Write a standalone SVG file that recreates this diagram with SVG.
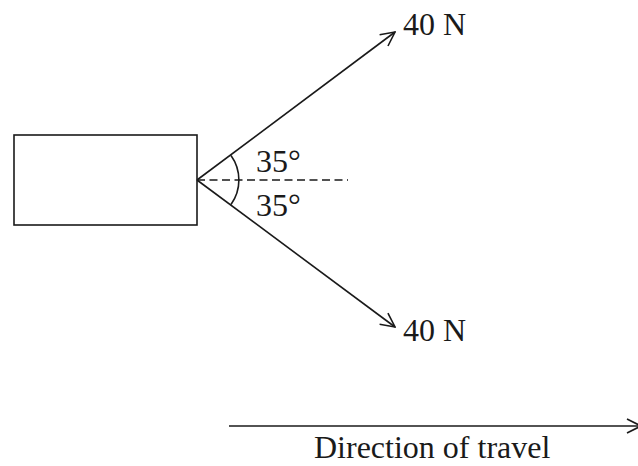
<svg xmlns="http://www.w3.org/2000/svg" width="638" height="466" viewBox="0 0 638 466">
<style>
.ln{stroke:#1a1a1a;stroke-width:1.6;fill:none}
.t{font-family:"Liberation Serif","Times New Roman",serif;font-size:32px;fill:#1a1a1a}
</style>
<defs>
<marker id="ah" viewBox="0 0 16 16" refX="15" refY="8" markerWidth="16" markerHeight="16" markerUnits="userSpaceOnUse" orient="auto">
<path d="M1,1 L15,8 L1,15" fill="none" stroke="#1a1a1a" stroke-width="1.6"/>
</marker>
</defs>
<rect width="638" height="466" fill="#fff"/>
<g id="block"><rect class="ln" x="14" y="135" width="183" height="90"/></g>
<g id="connectors">
<line class="ln" x1="197" y1="180" x2="395" y2="32" marker-end="url(#ah)"/>
<line class="ln" x1="197" y1="180" x2="395" y2="327" marker-end="url(#ah)"/>
<line class="ln" x1="197" y1="180" x2="348" y2="180" stroke-dasharray="8,4.5"/>
<path class="ln" d="M231,155.5 A42,42 0 0 1 231,204.5"/>
<line class="ln" x1="229" y1="426" x2="641" y2="426" marker-end="url(#ah)"/>
</g>
<g id="labels">
<text class="t" x="403" y="35">40 N</text>
<text class="t" x="403" y="341">40 N</text>
<text class="t" x="256" y="172">35°</text>
<text class="t" x="256" y="216">35°</text>
<text class="t" x="314" y="458">Direction of travel</text>
</g>
</svg>
